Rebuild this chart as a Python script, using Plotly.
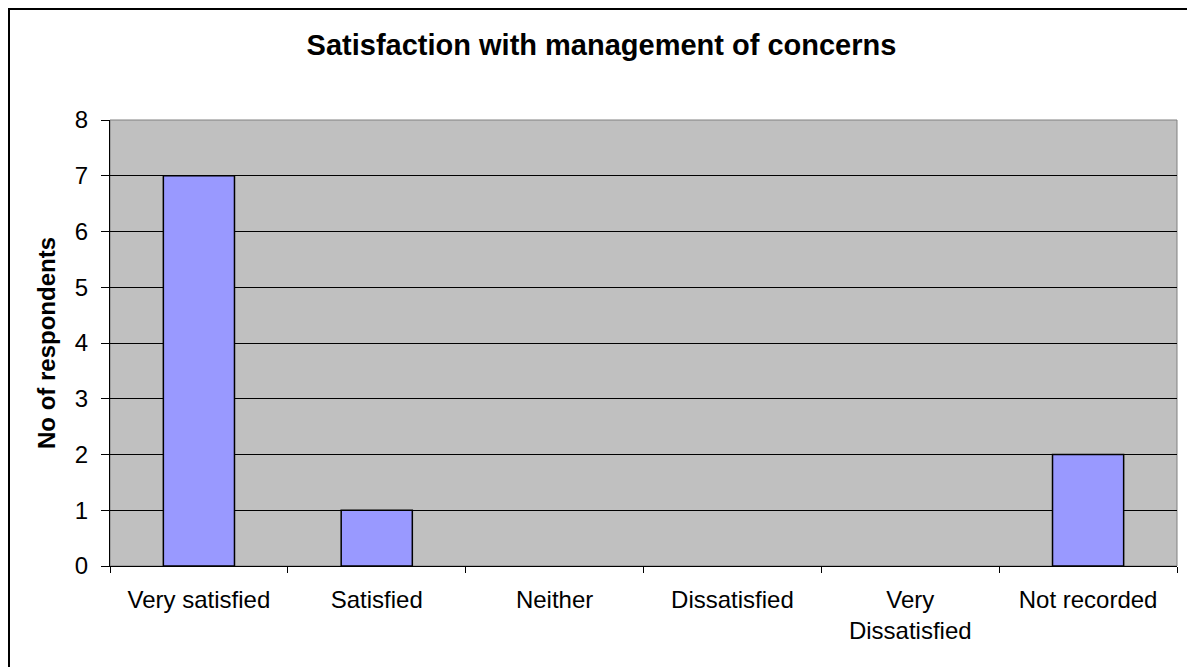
import plotly.graph_objects as go

# ---- data ----
categories = ["Very satisfied", "Satisfied", "Neither", "Dissatisfied",
              "Very<br>Dissatisfied", "Not recorded"]
respondents = [7, 1, 0, 0, 0, 2]
y_ticks = [0, 1, 2, 3, 4, 5, 6, 7, 8]

# page has an 8px body margin, so figure is sized/offset for that
W, H = 1187, 659
L, R, T, B = 102, 18, 112, 101

fig = go.Figure()
fig.add_trace(go.Bar(
    x=categories, y=respondents,
    marker=dict(color="#9999FF",
                line=dict(color="black",
                          width=[1.5 if v > 0 else 0 for v in respondents])),
    width=0.4,
))

pw = W - L - R
ph = H - T - B

def px_x(v):
    return (v - L) / pw

def px_y(v):
    return 1 - (v - T) / ph

font = "Liberation Sans, Arial, sans-serif"

fig.update_layout(
    width=W, height=H,
    margin=dict(l=L, r=R, t=T, b=B),
    paper_bgcolor="white",
    plot_bgcolor="#C0C0C0",
    showlegend=False,
    font=dict(family=font, size=24, color="black"),
    title=dict(text="<b>Satisfaction with management of concerns</b>",
               x=0.5, xanchor="center", y=1 - 37 / H, yanchor="middle",
               font=dict(size=29, family=font)),
    xaxis=dict(
        type="category", tickson="boundaries", ticks="outside", ticklen=6,
        tickcolor="black", showline=True, linecolor="black", linewidth=1,
        showgrid=False, mirror=False, tickfont=dict(size=24),
        ticklabelstandoff=12,
    ),
    yaxis=dict(
        range=[0, 8], tickvals=y_ticks, ticks="outside", ticklen=8,
        tickcolor="black", showline=True, linecolor="black", linewidth=1,
        showgrid=True, gridcolor="black", gridwidth=1, zeroline=False,
        ticklabelstandoff=8, tickfont=dict(size=24),
        title=dict(text="<b>No of respondents</b>", font=dict(size=24), standoff=12),
    ),
    shapes=[
        # plot area border (gray top and right)
        dict(type="rect", xref="paper", yref="paper", x0=0, x1=1, y0=0, y1=1,
             line=dict(color="#808080", width=1), layer="below"),
        # outer chart border
        dict(type="rect", xref="paper", yref="paper",
             x0=px_x(1), x1=px_x(1185), y0=px_y(670), y1=px_y(1),
             line=dict(color="black", width=2)),
    ],
)

fig.write_html("out.html")
